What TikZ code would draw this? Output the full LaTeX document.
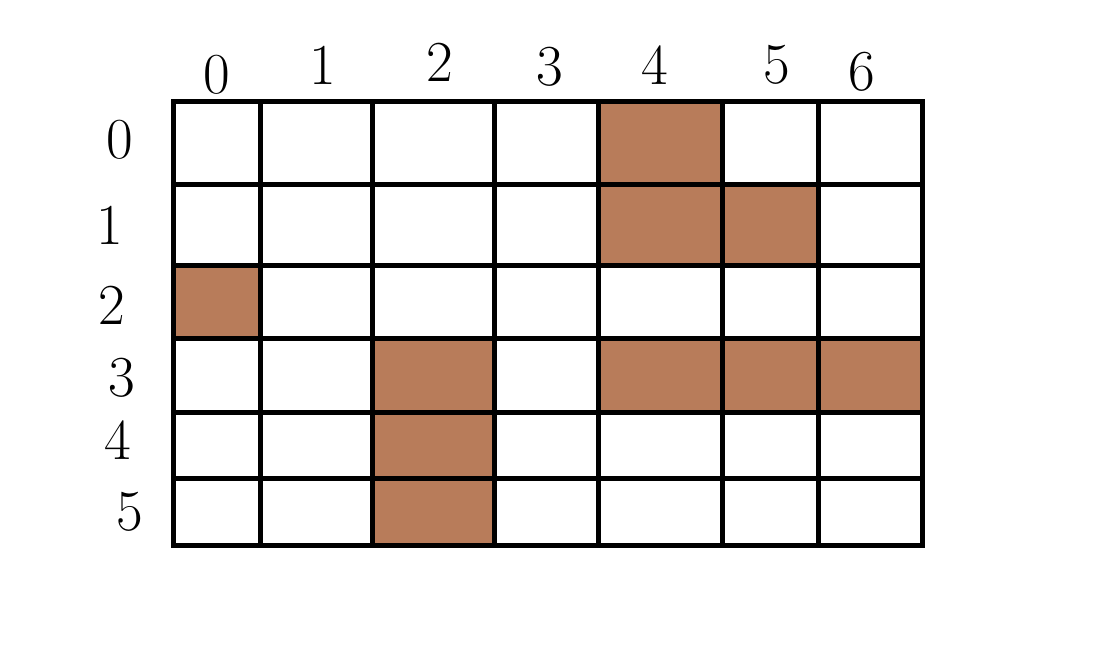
\documentclass[tikz,border=0pt]{standalone}
\usepackage{tikz}
\definecolor{cell}{HTML}{B87C5A}
\tikzset{grd/.style={x=1pt,y=-1pt,line width=5pt,font=\fontsize{58}{58}\selectfont},
  lbl/.style={inner sep=0pt}}

\begin{document}
\begin{tikzpicture}[grd]
  \useasboundingbox (0,0) rectangle (1107,660);
  % filled cells: x0/y0/x1/y1
  \foreach \xa/\ya/\xb/\yb in {598/102/722/185,598/185/722/265,722/185/818/265,
    173/265/260/338,372/338/494/412,598/338/722/412,722/338/818/412,818/338/922/412,
    372/412/494/478,372/478/494/545}{\fill[cell] (\xa,\ya) rectangle (\xb,\yb);}
  % grid
  \foreach \x in {260,372,494,598,722,818}{\draw (\x,102) -- (\x,545);}
  \foreach \y in {185,265,338,412,478}{\draw (173,\y) -- (922,\y);}
  \draw (173,102) rectangle (922,545);
  % column labels
  \foreach \i/\x/\y in {0/217/75,1/323/65,2/440/62,3/550/67,4/655/65,5/777/65,6/862/72}{
    \node[lbl] (c\i) at (\x,\y) {\i};}
  % row labels
  \foreach \i/\x/\y in {0/120/140,1/110/225,2/112/305,3/122/378,4/118/440,5/130/512}{
    \node[lbl] (r\i) at (\x,\y) {\i};}
\end{tikzpicture}
\end{document}
